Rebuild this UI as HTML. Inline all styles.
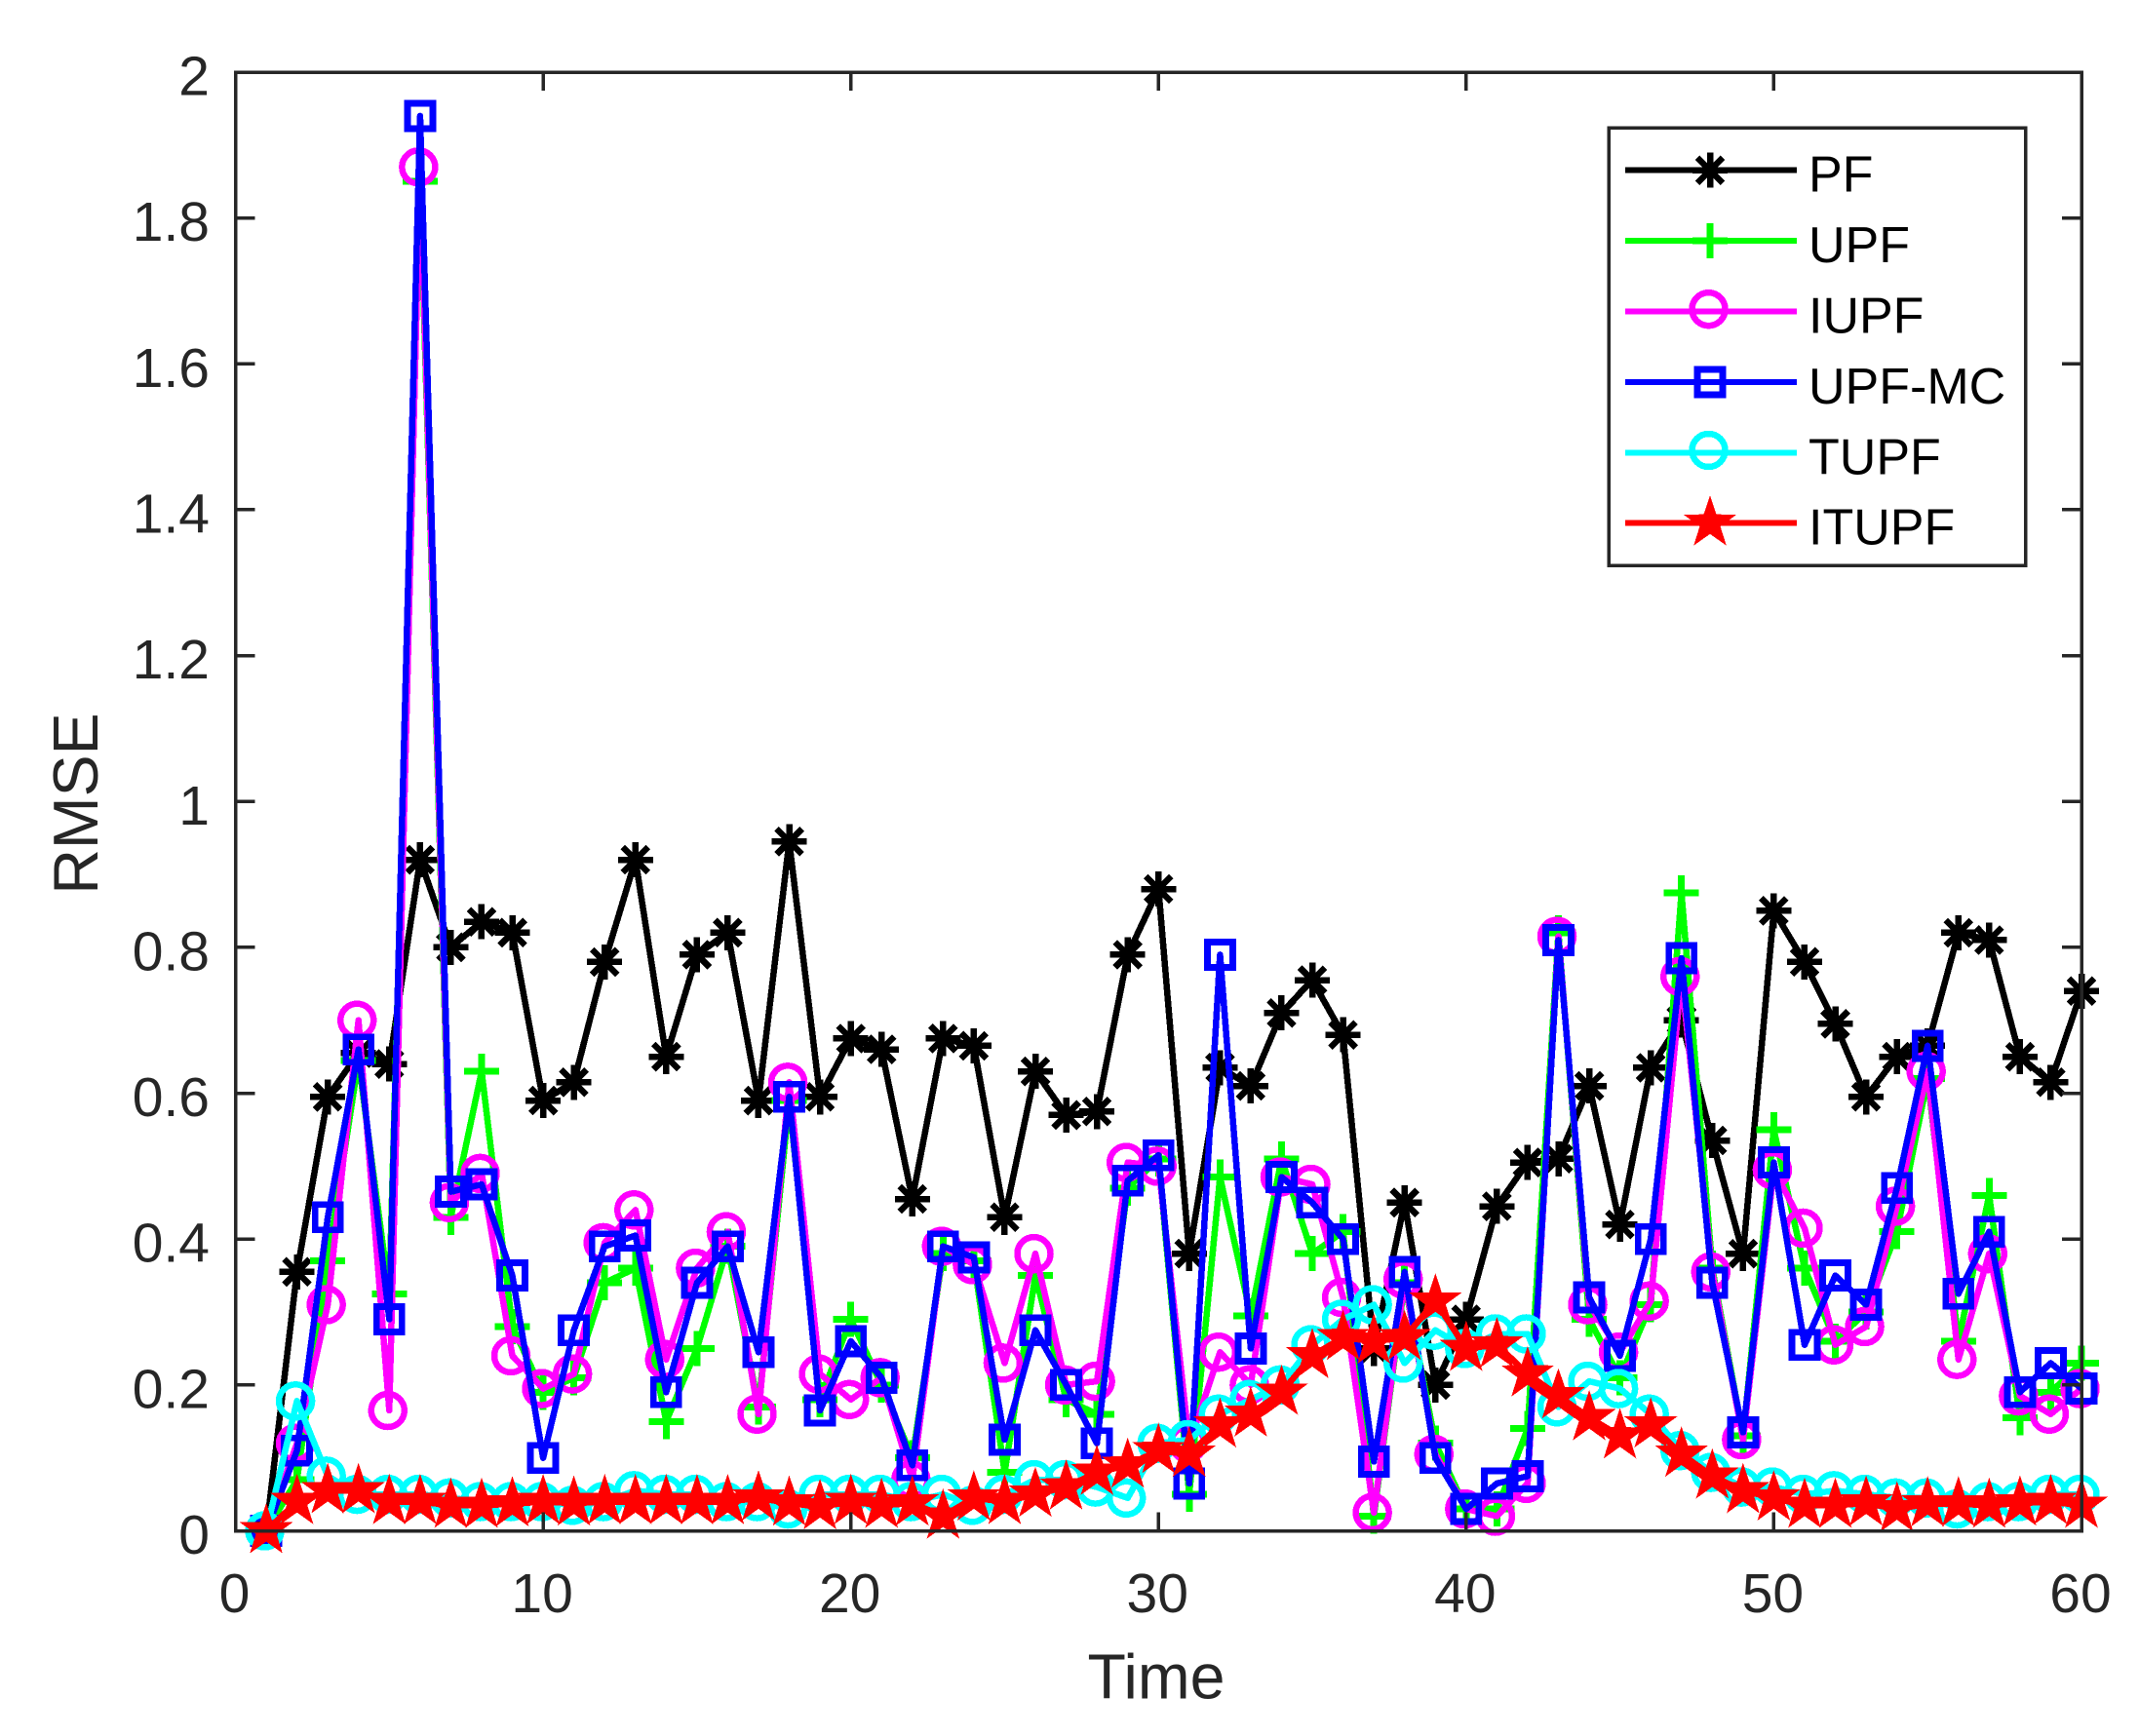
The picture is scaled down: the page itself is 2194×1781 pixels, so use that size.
<!DOCTYPE html>
<html>
<head>
<meta charset="utf-8">
<title>RMSE over Time</title>
<style>
html,body{margin:0;padding:0;background:#fff;}
svg{display:block;}
text{font-family:"Liberation Sans",Arial,sans-serif;}
</style>
</head>
<body>
<svg id="chart" xmlns="http://www.w3.org/2000/svg" width="2194" height="1781" viewBox="0 0 2194 1781">
<rect x="0" y="0" width="2194" height="1781" fill="#fff"/>
<g id="series" shape-rendering="crispEdges"></g>
<g id="axes" shape-rendering="crispEdges"></g>
<g id="legend" shape-rendering="crispEdges"></g>
</svg>
<script>
var xTicks = [0,10,20,30,40,50,60];
var yTicks = [0,0.2,0.4,0.6,0.8,1,1.2,1.4,1.6,1.8,2];
var yTickLabels = ["0","0.2","0.4","0.6","0.8","1","1.2","1.4","1.6","1.8","2"];
var seriesNames = ["PF","UPF","IUPF","UPF-MC","TUPF","ITUPF"];
var seriesColors = ["#000000","#00ff00","#ff00ff","#0000ff","#00ffff","#ff0000"];
var seriesMarkers = ["asterisk","plus","circle","square","circle","star"];
var pf = [0,0.355,0.595,0.655,0.64,0.92,0.80,0.835,0.82,0.59,0.615,0.78,0.92,0.65,0.79,0.82,0.59,0.945,0.595,0.675,0.66,0.455,0.675,0.665,0.43,0.63,0.57,0.575,0.79,0.88,0.38,0.635,0.61,0.71,0.755,0.68,0.25,0.45,0.20,0.29,0.445,0.505,0.51,0.61,0.42,0.635,0.70,0.535,0.38,0.85,0.78,0.695,0.595,0.65,0.665,0.82,0.81,0.65,0.615,0.74];
var upf = [0,0.07,0.37,0.645,0.325,1.85,0.43,0.63,0.28,0.19,0.21,0.34,0.36,0.15,0.25,0.39,0.17,0.59,0.18,0.29,0.20,0.10,0.38,0.37,0.08,0.35,0.18,0.16,0.47,0.51,0.05,0.485,0.295,0.51,0.38,0.41,0.02,0.34,0.12,0.03,0.03,0.14,0.82,0.29,0.21,0.31,0.875,0.36,0.13,0.55,0.36,0.26,0.30,0.41,0.62,0.26,0.46,0.155,0.19,0.23];
var iupf = [0,0.12,0.31,0.70,0.165,1.87,0.45,0.49,0.24,0.195,0.215,0.395,0.44,0.235,0.36,0.41,0.16,0.615,0.215,0.18,0.21,0.07,0.39,0.365,0.23,0.38,0.20,0.205,0.505,0.50,0.12,0.245,0.20,0.485,0.475,0.32,0.025,0.345,0.105,0.03,0.02,0.065,0.815,0.31,0.245,0.315,0.76,0.355,0.125,0.495,0.415,0.255,0.28,0.445,0.63,0.235,0.38,0.185,0.16,0.195];
var upfMc = [0,0.11,0.43,0.66,0.29,1.94,0.465,0.475,0.35,0.10,0.275,0.39,0.405,0.19,0.34,0.39,0.245,0.595,0.165,0.26,0.21,0.09,0.39,0.375,0.125,0.275,0.20,0.12,0.48,0.515,0.065,0.79,0.25,0.485,0.45,0.40,0.095,0.355,0.10,0.03,0.065,0.075,0.81,0.32,0.24,0.40,0.785,0.34,0.135,0.505,0.255,0.35,0.31,0.47,0.665,0.325,0.41,0.19,0.23,0.195];
var tupf = [0,0.178,0.075,0.05,0.05,0.05,0.045,0.04,0.04,0.04,0.035,0.04,0.055,0.05,0.05,0.04,0.04,0.03,0.05,0.05,0.05,0.04,0.05,0.035,0.05,0.07,0.07,0.06,0.045,0.12,0.125,0.16,0.18,0.20,0.255,0.29,0.31,0.23,0.275,0.25,0.27,0.27,0.17,0.205,0.195,0.16,0.11,0.08,0.06,0.06,0.05,0.055,0.05,0.045,0.045,0.03,0.04,0.04,0.05,0.05];
var itupf = [0,0.04,0.055,0.055,0.04,0.04,0.035,0.035,0.037,0.04,0.038,0.04,0.04,0.04,0.04,0.04,0.045,0.038,0.033,0.04,0.035,0.038,0.02,0.045,0.04,0.05,0.06,0.08,0.09,0.11,0.105,0.145,0.16,0.19,0.24,0.265,0.26,0.265,0.315,0.25,0.255,0.215,0.185,0.155,0.13,0.145,0.105,0.075,0.055,0.045,0.035,0.035,0.038,0.03,0.037,0.037,0.035,0.038,0.04,0.035];
var seriesValues = [pf,upf,iupf,upfMc,tupf,itupf];

var NS = "http://www.w3.org/2000/svg";
var left = 241.5, right = 2135, top_ = 74, bottom = 1570.5;
function xScale(v){ return left + (v / 60) * (right - left); }
function yScale(v){ return bottom - (v / 2) * (bottom - top_); }
function mk(tag, attrs, parent){
  var el = document.createElementNS(NS, tag);
  for (var k in attrs) el.setAttribute(k, attrs[k]);
  parent.appendChild(el);
  return el;
}
function starPoints(cx, cy){
  var R = 27, r = 10.5, pts = [];
  for (var i = 0; i < 10; i++){
    var rad = i % 2 ? r : R;
    var a = -Math.PI / 2 + i * Math.PI / 5;
    pts.push((cx + rad * Math.cos(a)).toFixed(1) + "," + (cy + rad * Math.sin(a)).toFixed(1));
  }
  return pts.join(" ");
}
function asteriskPath(cx, cy){
  var h = 18, d = 13;
  return "M" + cx + " " + (cy - h) + "V" + (cy + h) +
    "M" + (cx - h) + " " + cy + "H" + (cx + h) +
    "M" + (cx - d) + " " + (cy - d) + "L" + (cx + d) + " " + (cy + d) +
    "M" + (cx - d) + " " + (cy + d) + "L" + (cx + d) + " " + (cy - d);
}
function drawMarker(kind, color, cx, cy, parent){
  var el;
  if (kind === "asterisk") {
    el = mk("path", {d: asteriskPath(cx, cy), fill: "none", stroke: color, "stroke-width": 6.5}, parent);
  } else if (kind === "plus") {
    el = mk("path", {d: "M" + (cx - 18) + " " + cy + "H" + (cx + 18) + "M" + cx + " " + (cy - 18) + "V" + (cy + 18), fill: "none", stroke: color, "stroke-width": 7}, parent);
  } else if (kind === "circle") {
    el = mk("circle", {cx: cx - 1.5, cy: cy, r: 17, fill: "none", stroke: color, "stroke-width": 6.5}, parent);
  } else if (kind === "square") {
    el = mk("rect", {x: cx - 13, y: cy - 13, width: 26, height: 26, fill: "none", stroke: color, "stroke-width": 6.8}, parent);
  } else {
    el = mk("polygon", {points: starPoints(cx, cy), fill: color, stroke: color, "stroke-width": 1}, parent);
  }
  return el;
}

var seriesLayer = document.getElementById("series");
seriesNames.forEach(function(name, s){
  var slug = name.toLowerCase();
  var g = mk("g", {}, seriesLayer);
  
  
  var values = seriesValues[s];
  var pts = values.map(function(v, i){ return xScale(i + 1).toFixed(1) + "," + yScale(v).toFixed(1); }).join(" ");
  var line = mk("polyline", {points: pts, fill: "none", stroke: seriesColors[s], "stroke-width": 6.5, "stroke-linejoin": "round"}, g);
  
  
  line.setAttribute('aria-label', slug);
  values.forEach(function(v, i){
    var m = drawMarker(seriesMarkers[s], seriesColors[s], xScale(i + 1), yScale(v), g);
    
    
  });
});

var axes = document.getElementById("axes");
var tickColor = "#262626";
var box = mk("rect", {x: left, y: top_, width: right - left, height: bottom - top_, fill: "none", stroke: tickColor, "stroke-width": 3.5}, axes);


xTicks.forEach(function(t){
  var x = xScale(t);
  var tk = mk("path", {d: "M" + x + " " + bottom + "V" + (bottom - 19) + "M" + x + " " + top_ + "V" + (top_ + 19), stroke: tickColor, "stroke-width": 3.5, fill: "none"}, axes);
  
  
  var lb = mk("text", {x: x - 1, y: 1654, "text-anchor": "middle", "font-size": 57, fill: tickColor}, axes);
  
  
  lb.textContent = String(t);
});
yTicks.forEach(function(t, i){
  var y = yScale(t);
  var tk = mk("path", {d: "M" + left + " " + y + "H" + (left + 20) + "M" + right + " " + y + "H" + (right - 20), stroke: tickColor, "stroke-width": 3.5, fill: "none"}, axes);
  
  
  var lb = mk("text", {x: 215, y: y + 23.5, "text-anchor": "end", "font-size": 57, fill: tickColor}, axes);
  
  
  lb.textContent = yTickLabels[i];
});
var xTitle = mk("text", {x: 1186, y: 1742.5, "text-anchor": "middle", "font-size": 64.5, fill: tickColor}, axes);


xTitle.textContent = "Time";
var yTitle = mk("text", {transform: "translate(100 824.5) rotate(-90)", x: 0, y: 0, "text-anchor": "middle", "font-size": 64.5, fill: tickColor}, axes);


yTitle.textContent = "RMSE";

var legend = document.getElementById("legend");
var legendBox = mk("rect", {x: 1650, y: 131.3, width: 427.5, height: 448.7, fill: "#fff", stroke: tickColor, "stroke-width": 3.5}, legend);


seriesNames.forEach(function(name, s){
  var y = 174.7 + s * 72.4;
  var g = mk("g", {}, legend);
  
  
  var ln = mk("line", {x1: 1667, x2: 1843, y1: y, y2: y, stroke: seriesColors[s], "stroke-width": 6}, g);
  
  
  var my = seriesMarkers[s] === "circle" ? y - 2.3 : y;
  var m = drawMarker(seriesMarkers[s], seriesColors[s], 1754, my, g);
  
  
  var tx = mk("text", {x: 1855, y: y + 22, "font-size": 52, fill: "#000"}, g);
  
  
  tx.textContent = name;
});
</script>
</body>
</html>
